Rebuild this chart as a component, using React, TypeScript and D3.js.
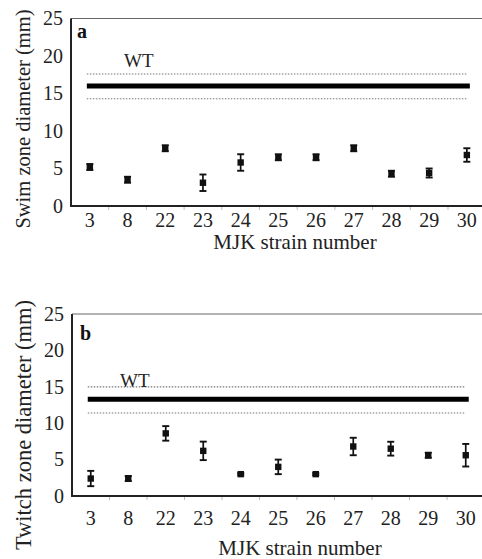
import React from "react";
import * as d3 from "d3";

const categories = ["3", "8", "22", "23", "24", "25", "26", "27", "28", "29", "30"];
const yTicks = [0, 5, 10, 15, 20, 25];

const swimMeans = [5.2, 3.5, 7.7, 3.1, 5.8, 6.5, 6.5, 7.7, 4.3, 4.4, 6.8];
const swimErrors = [0.4, 0.4, 0.4, 1.1, 1.1, 0.4, 0.4, 0.4, 0.4, 0.6, 0.9];
const swimWT = [14.3, 16.0, 17.6]; // lower, mean, upper

const twitchMeans = [2.4, 2.4, 8.6, 6.2, 3.0, 4.0, 3.0, 6.8, 6.5, 5.6, 5.6];
const twitchErrors = [1.05, 0.35, 1.0, 1.27, 0.15, 1.0, 0.15, 1.2, 0.95, 0.35, 1.55];
const twitchWT = [11.4, 13.3, 15.0];

const FONT = "'Liberation Serif', 'DejaVu Serif', serif";

type PanelProps = {
  letter: string;
  yLabel: string;
  means: number[];
  errors: number[];
  wt: number[];
  left: number;
  top: number;
  bottom: number;
  band: number;
  tickBaseline: number;
  xLabelBaseline: number;
  xLabelX: number;
  yLabelX: number;
  yLabelY: number;
  yLabelSize: number;
  letterPos: [number, number];
  wtPos: [number, number];
};

function Panel(p: PanelProps) {
  const x = d3
    .scaleBand<string>()
    .domain(categories)
    .range([p.left, p.left + p.band * categories.length])
    .padding(0);
  const y = d3.scaleLinear().domain([0, 25]).range([p.bottom, p.top]);
  const cx = (c: string) => (x(c) as number) + x.bandwidth() / 2;
  const right = p.left + p.band * categories.length;
  const x0 = cx(categories[0]) - 3;
  const x1 = cx(categories[categories.length - 1]) + 3;

  return (
    <g>
      {/* frame */}
      <line x1={p.left} x2={right + 5} y1={p.top} y2={p.top} stroke="#666" strokeWidth={1} />
      <line x1={p.left} x2={p.left} y1={p.top} y2={p.bottom} stroke="#222" strokeWidth={2} />
      <line x1={p.left - 1} x2={right + 5} y1={p.bottom} y2={p.bottom} stroke="#222" strokeWidth={2} />
      {/* x ticks at band boundaries */}
      {categories.slice(1).map((c) => (
        <line
          key={"t" + c}
          x1={x(c) as number}
          x2={x(c) as number}
          y1={p.bottom + 1}
          y2={p.bottom + 4}
          stroke="#bbb"
          strokeWidth={1}
        />
      ))}
      {/* y tick labels */}
      {yTicks.map((t) => (
        <text
          key={"y" + t}
          x={p.left - 8}
          y={y(t)}
          dy="0.34em"
          textAnchor="end"
          fontFamily={FONT}
          fontSize={20}
          fill="#222"
        >
          {t}
        </text>
      ))}
      {/* x tick labels */}
      {categories.map((c) => (
        <text
          key={"x" + c}
          x={cx(c)}
          y={p.tickBaseline}
          textAnchor="middle"
          fontFamily={FONT}
          fontSize={20}
          fill="#222"
        >
          {c}
        </text>
      ))}
      <text
        x={p.xLabelX}
        y={p.xLabelBaseline}
        textAnchor="middle"
        fontFamily={FONT}
        fontSize={21}
        fill="#222"
      >
        MJK strain number
      </text>
      <text
        transform={`translate(${p.yLabelX},${p.yLabelY}) rotate(-90)`}
        textAnchor="middle"
        fontFamily={FONT}
        fontSize={p.yLabelSize}
        fill="#222"
      >
        {p.yLabel}
      </text>
      <text
        x={p.letterPos[0]}
        y={p.letterPos[1]}
        fontFamily={FONT}
        fontWeight="bold"
        fontSize={20}
        fill="#111"
      >
        {p.letter}
      </text>
      {/* WT lines */}
      <line x1={x0} x2={x1 - 3} y1={y(p.wt[0])} y2={y(p.wt[0])} stroke="#777" strokeWidth={1.2} strokeDasharray="1.5 1.5" />
      <line x1={x0} x2={x1 - 3} y1={y(p.wt[2])} y2={y(p.wt[2])} stroke="#777" strokeWidth={1.2} strokeDasharray="1.5 1.5" />
      <line x1={x0} x2={x1} y1={y(p.wt[1])} y2={y(p.wt[1])} stroke="#000" strokeWidth={5} />
      <text x={p.wtPos[0]} y={p.wtPos[1]} fontFamily={FONT} fontSize={19} fill="#222">
        WT
      </text>
      {/* points with error bars */}
      {categories.map((c, i) => {
        const m = p.means[i];
        const e = p.errors[i];
        const px = cx(c);
        return (
          <g key={"p" + c}>
            <line x1={px} x2={px} y1={y(m + e)} y2={y(m - e)} stroke="#111" strokeWidth={1.7} />
            <line x1={px - 3.5} x2={px + 3.5} y1={y(m + e)} y2={y(m + e)} stroke="#111" strokeWidth={1.9} />
            <line x1={px - 3.5} x2={px + 3.5} y1={y(m - e)} y2={y(m - e)} stroke="#111" strokeWidth={1.9} />
            <rect x={px - 3.2} y={y(m) - 3.2} width={6.4} height={6.4} fill="#111" />
          </g>
        );
      })}
    </g>
  );
}

export default function App() {
  return (
    <svg
      width={482}
      height={559}
      style={{ position: "absolute", left: 0, top: 0, background: "#fff" }}
    >
      <rect width={482} height={559} fill="#fff" />
      <Panel
        letter="a"
        yLabel="Swim zone diameter (mm)"
        means={swimMeans}
        errors={swimErrors}
        wt={swimWT}
        left={71}
        top={18.5}
        bottom={206}
        band={37.7}
        tickBaseline={227}
        xLabelBaseline={249}
        xLabelX={295}
        yLabelX={30}
        yLabelY={119}
        yLabelSize={20.5}
        letterPos={[77, 38]}
        wtPos={[124, 67]}
      />
      <Panel
        letter="b"
        yLabel="Twitch zone diameter (mm)"
        means={twitchMeans}
        errors={twitchErrors}
        wt={twitchWT}
        left={72}
        top={314}
        bottom={496}
        band={37.5}
        tickBaseline={525}
        xLabelBaseline={555}
        xLabelX={300}
        yLabelX={31}
        yLabelY={425}
        yLabelSize={22.5}
        letterPos={[80, 340]}
        wtPos={[120, 387]}
      />
    </svg>
  );
}
